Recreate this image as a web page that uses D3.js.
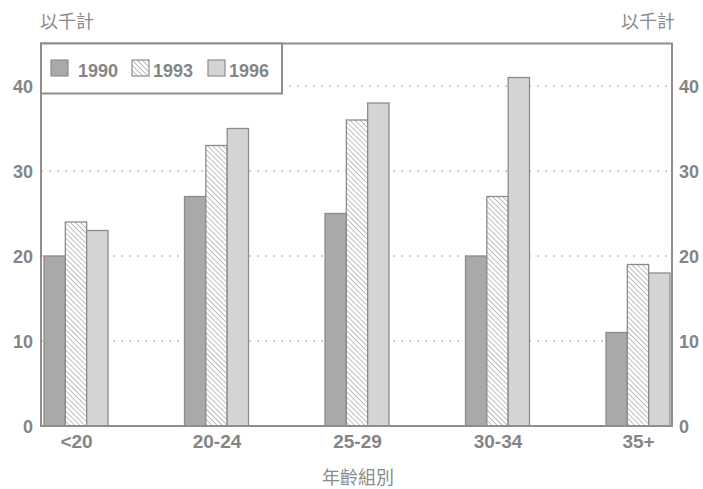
<!DOCTYPE html>
<html><head><meta charset="utf-8">
<script src="https://cdn.jsdelivr.net/npm/d3@7"></script>
<style>
html,body{margin:0;padding:0;background:#fff;}
svg{display:block;}
text{font-family:"Liberation Sans",Arial,sans-serif;fill:#858585;}
.cjk{font-family:"Noto Sans CJK TC","Noto Sans CJK SC",sans-serif;fill:#8a8a8a;}
</style></head>
<body>
<svg id="chart" width="703" height="489"></svg>
<script>
const categories = ["<20", "20-24", "25-29", "30-34", "35+"];
const years = ["1990", "1993", "1996"];
const values1990 = [20, 27, 25, 20, 11];
const values1993 = [24, 33, 36, 27, 19];
const values1996 = [23, 35, 38, 41, 18];
const yTicks = [0, 10, 20, 30, 40];
const unitLabel = "以千計";
const xTitle = "年齡組別";

const series = {"1990": values1990, "1993": values1993, "1996": values1996};
const svg = d3.select("#chart");
const pLeft = 41, pRight = 672, pTop = 43.5, pBottom = 426;
const FONT = "'Liberation Sans',Arial,sans-serif";

const defs = svg.append("defs");
const pat = defs.append("pattern").attr("id","hatch").attr("patternUnits","userSpaceOnUse")
  .attr("width",3.6).attr("height",3.6).attr("patternTransform","rotate(-45)");
pat.append("rect").attr("width",3.6).attr("height",3.6).attr("fill","#fff");
pat.append("line").attr("x1",0).attr("y1",0).attr("x2",0).attr("y2",3.6)
  .attr("stroke","#8a8a8a").attr("stroke-width",1.1);

const fills = {"1990":"#a9a9a9", "1993":"url(#hatch)", "1996":"#d4d4d4"};

const y = d3.scaleLinear().domain([0, 45]).range([pBottom, pTop]);
const x = d3.scalePoint().domain(categories).range([76, 638]);
const xs = d3.scaleBand().domain(years).range([-32, 32]);

// gridlines
svg.append("g").selectAll("line").data(yTicks.filter(d=>d>0)).join("line")
  .attr("x1", pLeft).attr("x2", pRight)
  .attr("y1", d=>y(d)).attr("y2", d=>y(d))
  .attr("stroke","#a0a0a0").attr("stroke-width",1).attr("stroke-dasharray","2,6");

// bars
const g = svg.append("g");
categories.forEach((c,i)=>{
  years.forEach(yr=>{
    const v = series[yr][i];
    g.append("rect")
      .attr("x", x(c)+xs(yr)).attr("width", xs.bandwidth())
      .attr("y", y(v)).attr("height", y(0)-y(v))
      .attr("fill", fills[yr]).attr("stroke","#8c8c8c").attr("stroke-width",1.3);
  });
});

// frame
svg.append("rect").attr("x",pLeft).attr("y",pTop).attr("width",pRight-pLeft).attr("height",pBottom-pTop)
  .attr("fill","none").attr("stroke","#8e8e8e").attr("stroke-width",2);

// axes
const yl = d3.axisLeft(y).tickValues(yTicks).tickSize(0).tickPadding(8);
const yr2 = d3.axisRight(y).tickValues(yTicks).tickSize(0).tickPadding(7);
const gl = svg.append("g").attr("transform",`translate(${pLeft},0)`).call(yl);
const gr = svg.append("g").attr("transform",`translate(${pRight},0)`).call(yr2);
[gl,gr].forEach(a=>{ a.select(".domain").remove();
  a.selectAll("text").style("font-size","18px").style("font-weight","bold").style("fill","#858585")
   .style("font-family",FONT).attr("dy","0.36em"); });

const xa = d3.axisBottom(x).tickSize(0).tickPadding(9);
const gx = svg.append("g").attr("transform",`translate(0,${pBottom})`).call(xa);
gx.select(".domain").remove();
gx.selectAll("text").style("font-size","19px").style("font-weight","bold").style("fill","#858585").style("font-family",FONT);

// unit labels
svg.append("text").attr("class","cjk").attr("x",40).attr("y",28).style("font-size","18px").text(unitLabel);
svg.append("text").attr("class","cjk").attr("x",675).attr("y",28).attr("text-anchor","end").style("font-size","18px").text(unitLabel);
svg.append("text").attr("class","cjk").attr("x",358).attr("y",484).attr("text-anchor","middle").style("font-size","18px").text(xTitle);

// legend
const lg = svg.append("g");
lg.append("rect").attr("x",pLeft).attr("y",pTop).attr("width",241).attr("height",50)
  .attr("fill","#fff").attr("stroke","#8e8e8e").attr("stroke-width",2);
const lx = [51, 132, 208];
years.forEach((yr,i)=>{
  lg.append("rect").attr("x",lx[i]).attr("y",60).attr("width",17).attr("height",16)
    .attr("fill",fills[yr]).attr("stroke","#8c8c8c").attr("stroke-width",1.2);
  lg.append("text").attr("x",lx[i]+(i===0?27:21)).attr("y",77).style("font-size","18px")
    .style("font-weight","bold").text(yr);
});
</script>
</body></html>
